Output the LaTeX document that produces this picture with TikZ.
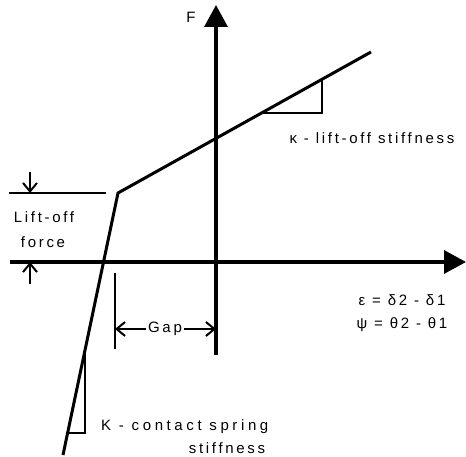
\documentclass[tikz,border=0pt]{standalone}
\usepackage{fontspec}
\setmainfont{Liberation Sans}[LetterSpace=18]
\usetikzlibrary{arrows.meta}
\begin{document}
\begin{tikzpicture}[x=1pt,y=-1pt,
  axis/.style={line width=3.2pt,-{Triangle[length=22pt,width=23pt]}},
  curve/.style={line width=3pt,line join=miter},
  tri/.style={line width=2pt},
  thin/.style={line width=2pt},
  barb/.style={line width=2pt,-{Straight Barb[length=8.5pt,width=14pt,line width=2pt]}},
  lbl/.style={inner sep=0pt,font=\fontsize{15}{18}\selectfont}]
\useasboundingbox (0,0) rectangle (466,457);
% coordinates
\coordinate (vb) at (216,355);
\coordinate (vt) at (216,5);
\coordinate (hl) at (10,262);
\coordinate (hr) at (466,262);
\coordinate (c0) at (63,455);
\coordinate (c1) at (118,193);
\coordinate (c2) at (371,52);
\coordinate (t1) at (262,113);
\coordinate (t2) at (322,113);
\coordinate (t3) at (322,79.3);
\coordinate (s1) at (85,347);
\coordinate (s2) at (85,433);
\coordinate (s3) at (67.5,433);
\coordinate (l1) at (9,193);
\coordinate (l2) at (106,193);
\coordinate (da) at (30,172);
\coordinate (db) at (30,193);
\coordinate (ua) at (30,284);
\coordinate (ub) at (30,262);
\coordinate (g1) at (115,273);
\coordinate (g2) at (115,349);
\coordinate (gl) at (115,329);
\coordinate (gr) at (216,329);
% axes
\draw[axis] (vb) -- (vt);
\draw[axis] (hl) -- (hr);
% curve
\draw[curve] (c0) -- (c1) -- (c2);
\draw[tri] (t1) -- (t2) -- (t3);
\draw[tri] (s1) -- (s2) -- (s3);
% lift-off
\draw[thin] (l1) -- (l2);
\draw[barb] (da) -- (db);
\draw[barb] (ua) -- (ub);
% gap
\draw[line width=2.5pt] (g1) -- (g2);
\node[lbl] (gap) at (165,329) {Gap};
\draw[barb] (gap.west) ++(-2,0) coordinate (gw) (gw) -- (gl);
\draw[barb] (gap.east) ++(2,0) coordinate (ge) (ge) -- (gr);
% labels
\node[lbl] (F) at (191,17) {F};
\node[lbl] (kap) at (372,138) {κ - lift-off stiffness};
\node[lbl] (lo1) at (44,217) {Lift-off};
\node[lbl] (lo2) at (43,242) {force};
\node[lbl] (eps) at (402,300) {ε = δ2 - δ1};
\node[lbl] (psi) at (402,325) {ψ = θ2 - θ1};
\node[lbl,anchor=west,font=\fontsize{15}{18}\selectfont\addfontfeature{LetterSpace=24}] (K) at (101,427) {K - contact spring};
\node[lbl] (stf) at (227,448) {stiffness};
\end{tikzpicture}
\end{document}
